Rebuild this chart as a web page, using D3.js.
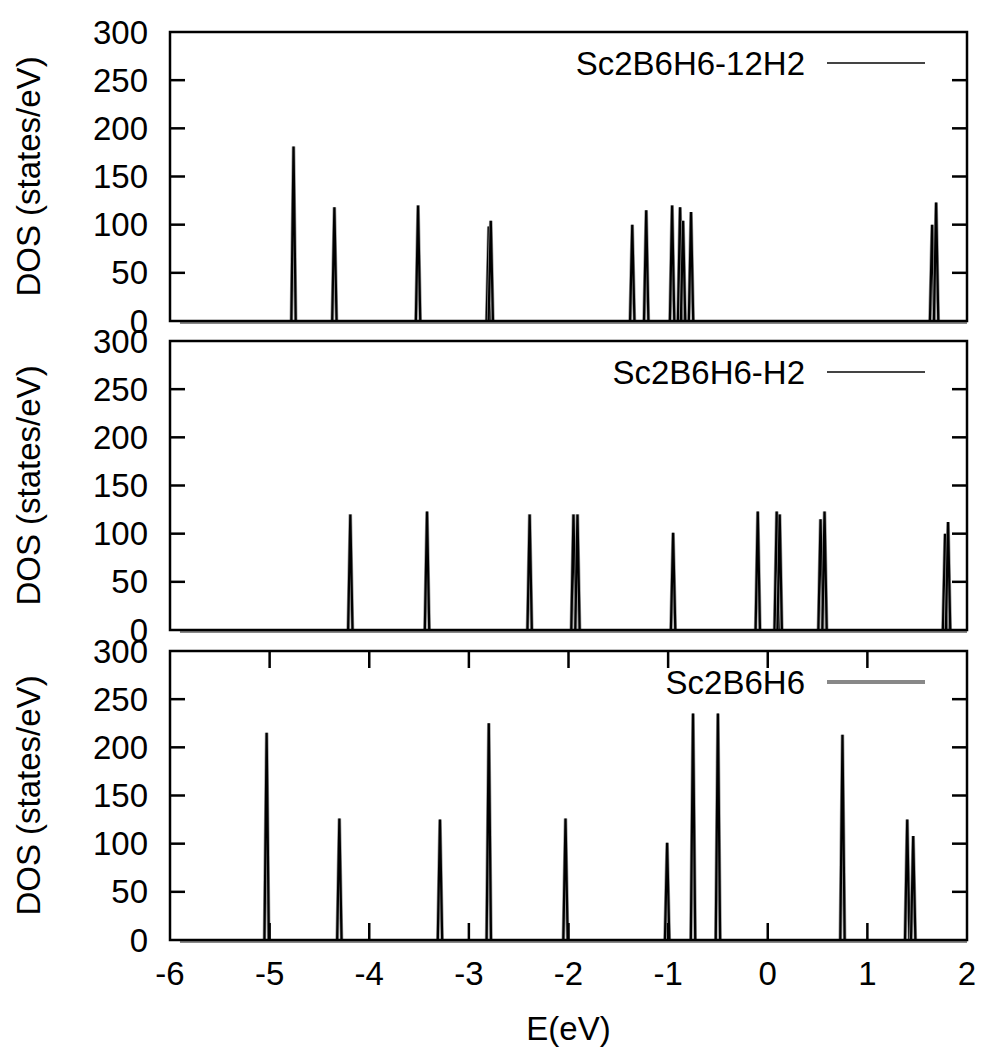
<!DOCTYPE html>
<html>
<head>
<meta charset="utf-8">
<script src="https://cdn.jsdelivr.net/npm/d3@7"></script>
<style>
  html, body { margin: 0; padding: 0; background: #fff; }
  svg { display: block; }
  text { font-family: "Liberation Sans", Arial, sans-serif; fill: #000; }
</style>
</head>
<body>
<svg id="chart" width="984" height="1047"></svg>
<script>
// ── data ──────────────────────────────────────────────────────
const energyTicks = [-6, -5, -4, -3, -2, -1, 0, 1, 2];
const dosTicks = [0, 50, 100, 150, 200, 250, 300];
const panelNames = ["Sc2B6H6-12H2", "Sc2B6H6-H2", "Sc2B6H6"];

// peak positions (eV) and heights (states/eV)
const peaks12H2 = [
  [-4.76, 181], [-4.35, 118], [-3.51, 120], [-2.80, 98], [-2.78, 104],
  [-1.36, 100], [-1.22, 115], [-0.96, 120], [-0.88, 118], [-0.85, 104],
  [-0.77, 113], [1.65, 100], [1.69, 123]
];
const peaksH2 = [
  [-4.19, 120], [-3.42, 123], [-2.39, 120], [-1.95, 120], [-1.91, 120],
  [-0.95, 101], [-0.10, 123], [0.09, 123], [0.12, 120], [0.53, 115],
  [0.57, 123], [1.78, 100], [1.81, 112]
];
const peaksBare = [
  [-5.03, 215], [-4.30, 126], [-3.29, 125], [-2.80, 225], [-2.03, 126],
  [-1.01, 101], [-0.75, 235], [-0.50, 235], [0.75, 213], [1.40, 125],
  [1.46, 108]
];
const panelPeaks = [peaks12H2, peaksH2, peaksBare];
const legendColors = ["#444", "#444", "#888"];
const legendWidths = [2, 2, 4];

// ── layout ────────────────────────────────────────────────────
const svg = d3.select("#chart");
const left = 170, right = 967;
const tops = [32, 341, 651];
const ph = 289;
const FS = 33;
const HALF = 0.022; // half base width of a drawn peak, eV

const x = d3.scaleLinear().domain([-6, 2]).range([left, right]);

tops.forEach((top, i) => {
  const y = d3.scaleLinear().domain([0, 300]).range([top + ph, top]);
  const g = svg.append("g");

  // baseline + peaks
  const line = d3.line().x(d => x(d[0])).y(d => y(d[1]));
  g.append("path")
    .attr("d", line([[-5.9, 0], [2, 0]]))
    .attr("stroke", "#888").attr("stroke-width", 2).attr("fill", "none")
    .attr("transform", "translate(0,2)");
  const pk = g.append("g");
  panelPeaks[i].forEach(p => {
    const pts = [[p[0] - HALF, 0], [p[0], p[1]], [p[0] + HALF, 0]];
    pk.append("path").attr("d", line(pts))
      .attr("fill", "none").attr("stroke", "#999").attr("stroke-width", 3.6)
      .attr("stroke-linejoin", "bevel");
    pk.append("path").attr("d", line(pts))
      .attr("fill", "none").attr("stroke", "#000").attr("stroke-width", 2.2)
      .attr("stroke-linejoin", "bevel");
  });

  // frame
  g.append("rect")
    .attr("x", left).attr("y", top).attr("width", right - left).attr("height", ph)
    .attr("fill", "none").attr("stroke", "#000").attr("stroke-width", 2.5);

  // y ticks (both sides, inward) and labels
  const yt = dosTicks.filter(v => v > 0 && v < 300);
  g.selectAll("line.yl").data(yt).join("line")
    .attr("x1", left).attr("x2", left + 15)
    .attr("y1", d => y(d)).attr("y2", d => y(d))
    .attr("stroke", "#000").attr("stroke-width", 2.5);
  g.selectAll("line.yr").data(yt).join("line")
    .attr("x1", right).attr("x2", right - 15)
    .attr("y1", d => y(d)).attr("y2", d => y(d))
    .attr("stroke", "#000").attr("stroke-width", 2.5);
  g.selectAll("text.ytl").data(dosTicks).join("text")
    .attr("class", "ytl")
    .attr("x", 148).attr("y", d => y(d))
    .attr("text-anchor", "end").attr("dominant-baseline", "central")
    .style("font-size", FS + "px")
    .text(d => d);

  // y title
  g.append("text")
    .attr("transform", `translate(28,${top + ph / 2}) rotate(-90)`)
    .attr("text-anchor", "middle").attr("dominant-baseline", "central")
    .style("font-size", FS + "px")
    .text("DOS (states/eV)");

  // legend
  g.append("text")
    .attr("x", 805).attr("y", top + 31)
    .attr("text-anchor", "end").attr("dominant-baseline", "central")
    .style("font-size", FS + "px")
    .text(panelNames[i]);
  g.append("line")
    .attr("x1", 827).attr("x2", 925)
    .attr("y1", top + 31).attr("y2", top + 31)
    .attr("stroke", legendColors[i]).attr("stroke-width", legendWidths[i]);

  // x ticks only on the bottom panel
  if (i === 2) {
    const xt = energyTicks.filter(v => v > -6 && v < 2);
    g.selectAll("line.xb").data(xt).join("line")
      .attr("x1", d => x(d)).attr("x2", d => x(d))
      .attr("y1", top + ph).attr("y2", top + ph - 17)
      .attr("stroke", "#000").attr("stroke-width", 2.5);
    g.selectAll("line.xt").data(xt).join("line")
      .attr("x1", d => x(d)).attr("x2", d => x(d))
      .attr("y1", top).attr("y2", top + 17)
      .attr("stroke", "#000").attr("stroke-width", 2.5);
    g.selectAll("text.xtl").data(energyTicks).join("text")
      .attr("class", "xtl")
      .attr("x", d => x(d)).attr("y", 973)
      .attr("text-anchor", "middle").attr("dominant-baseline", "central")
      .style("font-size", FS + "px")
      .text(d => d);
    g.append("text")
      .attr("x", (left + right) / 2).attr("y", 1028)
      .attr("text-anchor", "middle").attr("dominant-baseline", "central")
      .style("font-size", FS + "px")
      .text("E(eV)");
  }
});
</script>
</body>
</html>
